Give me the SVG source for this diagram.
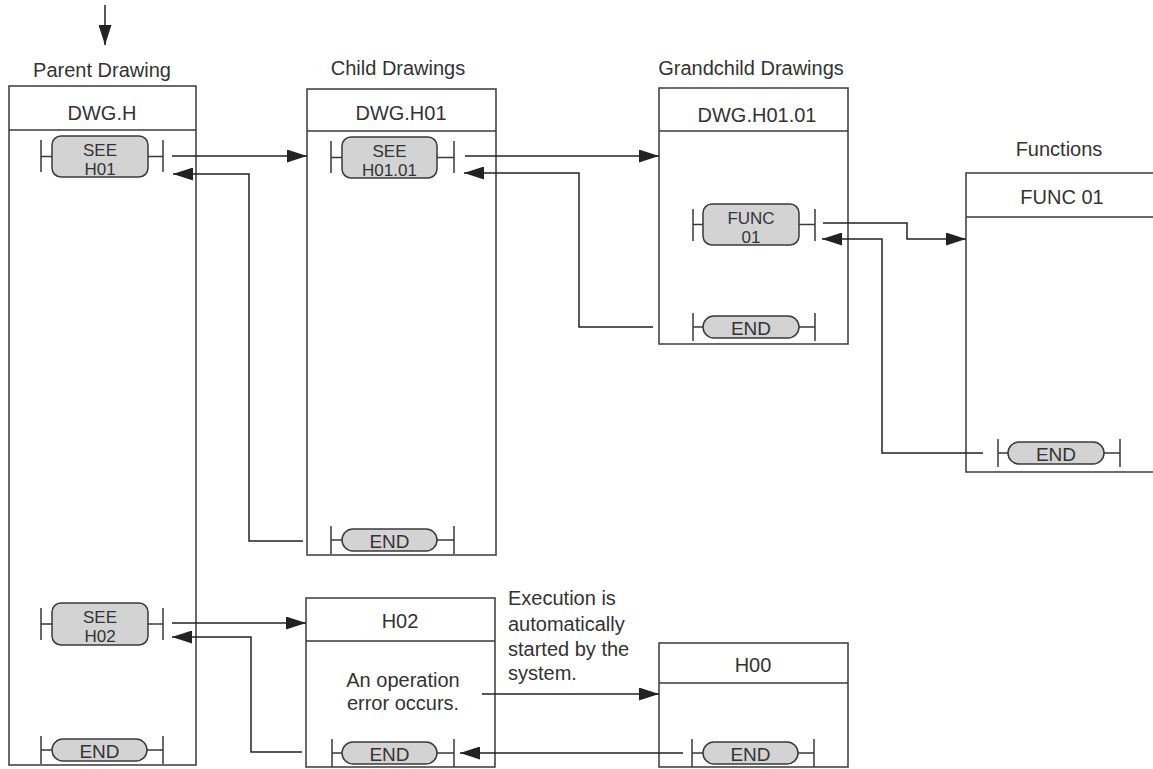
<svg xmlns="http://www.w3.org/2000/svg" width="1153" height="769" viewBox="0 0 1153 769">
<defs>
<style>
.box{fill:#fff;stroke:#3a3a3a;stroke-width:1.5}
.ln{fill:none;stroke:#3a3a3a;stroke-width:1.5}
.ct{fill:#d3d3d3;stroke:#3a3a3a;stroke-width:1.5}
.t{font-family:"Liberation Sans",Arial,sans-serif;font-size:20px;fill:#333}
.c{text-anchor:middle}
.s{font-size:19px}
.s2{font-size:17px}
.arr{fill:none;stroke:#222;stroke-width:1.5;marker-end:url(#ah)}
</style>
<marker id="ah" markerUnits="userSpaceOnUse" markerWidth="20" markerHeight="13" refX="20" refY="6.5" orient="auto">
<path d="M0,0 L20,6.5 L0,13 z" fill="#222"/>
</marker>
</defs>
<rect width="1153" height="769" fill="#fff"/>

<g id="labels">
<text class="t c" x="102" y="77">Parent Drawing</text>
<text class="t c" x="398" y="75">Child Drawings</text>
<text class="t c" x="751" y="75">Grandchild Drawings</text>
<text class="t c" x="1059" y="156">Functions</text>
</g>

<g id="parent">
<rect class="box" x="9" y="86" width="187" height="679"/>
<line class="ln" x1="9" y1="130" x2="196" y2="130"/>
<text class="t c" x="102" y="120">DWG.H</text>
<g id="see-h01">
<path class="ln" d="M41,140V172M41,156.5H52M148,156.5H163M163,140V172"/>
<rect class="ct" x="52" y="136" width="96" height="41" rx="9"/>
<text class="t c s2" x="100" y="155.5">SEE</text>
<text class="t c s2" x="100" y="174.5">H01</text>
</g>
<g id="see-h02">
<path class="ln" d="M41,608V640M41,624H52M148,624H163M163,608V640"/>
<rect class="ct" x="52" y="603" width="96" height="42" rx="9"/>
<text class="t c s2" x="100" y="622.5">SEE</text>
<text class="t c s2" x="100" y="641.5">H02</text>
</g>
<g id="parent-end">
<path class="ln" d="M41,736V764M41,750H52M147,750H163M163,736V764"/>
<rect class="ct" x="52" y="739" width="95" height="22" rx="11"/>
<text class="t c s" x="99.5" y="757.5">END</text>
</g>
</g>

<g id="child">
<rect class="box" x="307" y="89" width="189" height="466"/>
<line class="ln" x1="307" y1="131" x2="496" y2="131"/>
<text class="t c" x="401" y="120">DWG.H01</text>
<g id="see-h0101">
<path class="ln" d="M331,141V173M331,157.5H342M437,157.5H454M454,141V173"/>
<rect class="ct" x="342" y="137" width="95" height="41" rx="9"/>
<text class="t c s2" x="389.5" y="156.5">SEE</text>
<text class="t c s2" x="389.5" y="175.5">H01.01</text>
</g>
<g id="child-end">
<path class="ln" d="M331,526V554M331,540H342M437,540H454M454,526V554"/>
<rect class="ct" x="342" y="529" width="95" height="22" rx="11"/>
<text class="t c s" x="389.5" y="547.5">END</text>
</g>
</g>

<g id="grandchild">
<rect class="box" x="659" y="88" width="189" height="256"/>
<line class="ln" x1="659" y1="131" x2="848" y2="131"/>
<text class="t c" x="757" y="122">DWG.H01.01</text>
<g id="func01-call">
<path class="ln" d="M693,209V241M693,224.5H703M799,224.5H815M815,209V241"/>
<rect class="ct" x="703" y="204" width="96" height="41" rx="9"/>
<text class="t c s2" x="751" y="223.5">FUNC</text>
<text class="t c s2" x="751" y="242.5">01</text>
</g>
<g id="grandchild-end">
<path class="ln" d="M693,313V341M693,327H703M799,327H815M815,313V341"/>
<rect class="ct" x="703" y="316" width="96" height="22" rx="11"/>
<text class="t c s" x="751" y="334.5">END</text>
</g>
</g>

<g id="func01">
<rect class="box" x="966" y="173" width="250" height="299"/>
<line class="ln" x1="966" y1="217" x2="1216" y2="217"/>
<text class="t c" x="1062" y="204">FUNC 01</text>
<g id="func-end">
<path class="ln" d="M998,439V467M998,453H1008M1104,453H1120M1120,439V467"/>
<rect class="ct" x="1008" y="442" width="96" height="22" rx="11"/>
<text class="t c s" x="1056" y="460.5">END</text>
</g>
</g>

<g id="h02">
<rect class="box" x="306" y="598" width="189" height="169"/>
<line class="ln" x1="306" y1="641" x2="495" y2="641"/>
<text class="t c" x="400" y="628">H02</text>
<text class="t c" x="403" y="687">An operation</text>
<text class="t c" x="403" y="710">error occurs.</text>
<g id="h02-end">
<path class="ln" d="M332,739V767M332,753H342M437,753H454M454,739V767"/>
<rect class="ct" x="342" y="742" width="95" height="22" rx="11"/>
<text class="t c s" x="389.5" y="760.5">END</text>
</g>
</g>

<g id="h00">
<rect class="box" x="659" y="643" width="189" height="124"/>
<line class="ln" x1="659" y1="683" x2="848" y2="683"/>
<text class="t c" x="753" y="672">H00</text>
<g id="h00-end">
<path class="ln" d="M692,739V767M692,753H703M798,753H814M814,739V767"/>
<rect class="ct" x="703" y="742" width="95" height="22" rx="11"/>
<text class="t c s" x="750.5" y="760.5">END</text>
</g>
</g>

<g id="note">
<text class="t" x="508" y="605">Execution is</text>
<text class="t" x="508" y="631">automatically</text>
<text class="t" x="508" y="656">started by the</text>
<text class="t" x="508" y="680">system.</text>
</g>

<g id="connectors">
<path class="arr" d="M105,5V45"/>
<path class="arr" d="M172,156H307"/>
<path class="arr" d="M303,541H249V174H173"/>
<path class="arr" d="M465,156H659"/>
<path class="arr" d="M653,327H579V173H464"/>
<path class="arr" d="M823,223H907V239H966"/>
<path class="arr" d="M983,453H882V239H822"/>
<path class="arr" d="M172,623H306"/>
<path class="arr" d="M302,752H251V637H172"/>
<path class="arr" d="M482,694H659"/>
<path class="arr" d="M683,753H460"/>
</g>
</svg>
